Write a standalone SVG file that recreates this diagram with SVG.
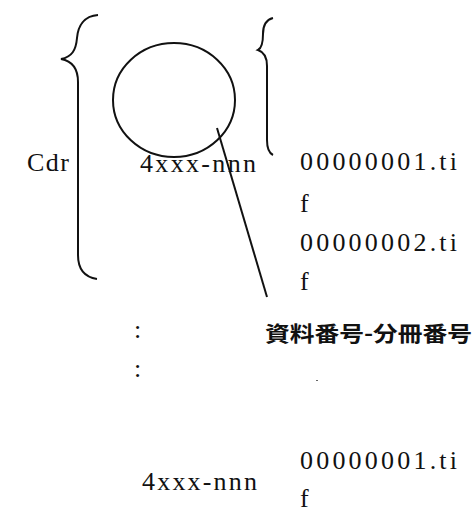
<svg xmlns="http://www.w3.org/2000/svg" width="475" height="513" viewBox="0 0 475 513">
<style>
.t{font-family:"Liberation Serif","Noto Sans CJK JP",serif;font-size:26px;fill:#111}
.j{font-family:"Noto Sans CJK JP","Noto Sans CJK SC",sans-serif;font-size:21px;font-weight:bold;fill:#111}
.s{fill:none;stroke:#111;stroke-width:2}
</style>
<rect width="475" height="513" fill="#fff"/>
<g id="cdr"><text class="t" x="27" y="171" textLength="42" lengthAdjust="spacing">Cdr</text></g>
<g id="brace-left"><path class="s" d="M98,15 C84,16 78,26 77,38 C76,50 72,57 61,59 C72,61 78,68 78,82 L78,255 C78,268 84,277 97,279"/></g>
<g id="circle"><ellipse class="s" cx="174" cy="100" rx="61" ry="57"/></g>
<g id="dir1"><text class="t" x="140" y="172" textLength="116" lengthAdjust="spacing">4xxx-nnn</text></g>
<g id="brace-right"><path class="s" d="M273,18 C265,20 263,27 263,34 C263,43 262,48 258,50 C264,52 267,58 267,66 L267,140 C267,148 269,153 273,155"/></g>
<g id="files1">
<text class="t" x="300" y="170" textLength="157" lengthAdjust="spacing">00000001.ti</text>
<text class="t" x="300" y="212">f</text>
<text class="t" x="300" y="251" textLength="157" lengthAdjust="spacing">00000002.ti</text>
<text class="t" x="300" y="290">f</text>
</g>
<g id="connectors"><line class="s" x1="217" y1="128" x2="267" y2="297"/></g>
<g id="label"><text class="j" x="265" y="341" textLength="207" lengthAdjust="spacingAndGlyphs">資料番号-分冊番号</text></g>
<g id="dots">
<text class="t" x="134" y="338">:</text>
<text class="t" x="134" y="377">:</text>
<rect x="316" y="380" width="2" height="1" fill="#666"/>
</g>
<g id="dir2"><text class="t" x="142" y="490" textLength="115" lengthAdjust="spacing">4xxx-nnn</text></g>
<g id="files2">
<text class="t" x="300" y="469" textLength="157" lengthAdjust="spacing">00000001.ti</text>
<text class="t" x="300" y="507">f</text>
</g>
</svg>
